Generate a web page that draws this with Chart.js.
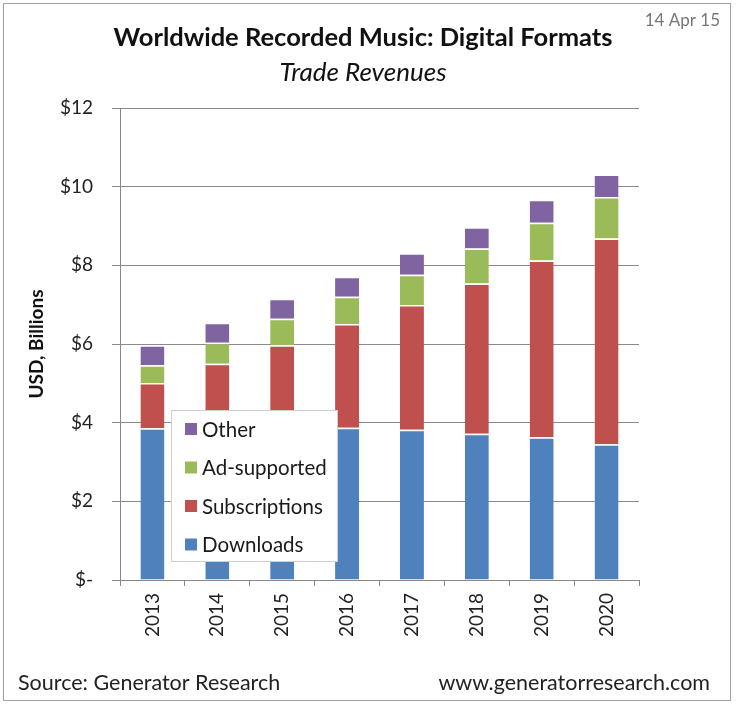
<!DOCTYPE html>
<html>
<head>
<meta charset="utf-8">
<script src="https://cdn.jsdelivr.net/npm/chart.js@4/dist/chart.umd.min.js"></script>
<style>
  html, body { margin: 0; padding: 0; background: #fff; }
  canvas { display: block; }
</style>
</head>
<body>
<canvas id="MusicChart" width="736" height="708"></canvas>
<script>
// -------------------------    Data    -------------------------

var years = ['2013', '2014', '2015', '2016', '2017', '2018', '2019', '2020'];

// USD billions, stacked from the bottom
var downloads     = [3.86, 3.85, 3.90, 3.87, 3.82, 3.72, 3.63, 3.45];
var subscriptions = [1.15, 1.65, 2.07, 2.64, 3.17, 3.82, 4.49, 5.23];
var adSupported   = [0.45, 0.53, 0.67, 0.69, 0.77, 0.89, 0.96, 1.06];
var other         = [0.51, 0.51, 0.51, 0.51, 0.55, 0.54, 0.59, 0.57];

var yTickValues = [0, 2, 4, 6, 8, 10, 12];

var FONT = "Lato, 'Liberation Sans', Arial, sans-serif";


// -------------------------    helperfunctions    -------------------------

function makeSet(label, values, color) {
    return {
        label: label,
        data: values,
        backgroundColor: color,
        borderColor: '#ffffff',
        borderWidth: { top: 1.5, left: 0, right: 0, bottom: 0 },
        borderSkipped: false,
        barPercentage: 0.37,
        categoryPercentage: 1.0,
    };
}

function dollar(v) {
    return v === 0 ? '$-' : '$' + v;
}


// -------------------------    Plugins    -------------------------

// legend box sitting on top of the bars
var boxLegend = {
    id: 'boxLegend',
    afterDatasetsDraw(chart) {
        const ctx = chart.ctx;
        ctx.save();
        ctx.fillStyle = '#ffffff';
        ctx.fillRect(171, 410, 167, 152);
        ctx.strokeStyle = '#d0d0d0';
        ctx.lineWidth = 1;
        ctx.strokeRect(171.5, 410.5, 166, 151);

        const sets = chart.data.datasets.slice().reverse();
        ctx.font = '20.5px ' + FONT;
        ctx.textBaseline = 'middle';
        ctx.textAlign = 'left';
        sets.forEach((ds, i) => {
            const y = 429 + i * 38.5;
            ctx.fillStyle = ds.backgroundColor;
            ctx.fillRect(185, y - 6, 12, 12);
            ctx.fillStyle = '#1a1a1a';
            ctx.fillText(ds.label, 202, y + 1);
        });
        ctx.restore();
    }
};

// titles, date, footer and frame
var pageText = {
    id: 'pageText',
    afterDraw(chart) {
        const ctx = chart.ctx;
        ctx.save();
        ctx.strokeStyle = '#a0a0a0';
        ctx.lineWidth = 1;
        ctx.strokeRect(3.5, 3.5, 727, 697);

        ctx.textBaseline = 'middle';
        ctx.textAlign = 'center';
        ctx.fillStyle = '#111';
        ctx.font = 'bold 25.5px ' + FONT;
        ctx.fillText('Worldwide Recorded Music: Digital Formats', 363, 38);
        ctx.font = 'italic 26px ' + FONT;
        ctx.fillText('Trade Revenues', 363, 73);

        ctx.textAlign = 'right';
        ctx.fillStyle = '#777';
        ctx.font = '17px ' + FONT;
        ctx.fillText('14 Apr 15', 720, 21);

        ctx.fillStyle = '#222';
        ctx.font = '21.5px ' + FONT;
        ctx.fillText('www.generatorresearch.com', 710, 683);
        ctx.textAlign = 'left';
        ctx.fillText('Source: Generator Research', 18, 683);
        ctx.restore();
    }
};


// -------------------------    Chart Setup    -------------------------

var ctx = document.getElementById('MusicChart').getContext('2d');
var MusicChart = new Chart(ctx, {
    type: 'bar',
    data: {
        labels: years,
        datasets: [
            makeSet('Downloads', downloads, '#4f81bd'),
            makeSet('Subscriptions', subscriptions, '#c0504d'),
            makeSet('Ad-supported', adSupported, '#9bbb59'),
            makeSet('Other', other, '#8064a2'),
        ],
    },
    options: {
        responsive: false,
        animation: false,
        layout: {
            padding: { left: 21, right: 97, top: 108, bottom: 58 }
        },
        plugins: {
            legend: { display: false },
            tooltip: { enabled: false },
        },
        scales: {
            x: {
                stacked: true,
                grid: {
                    offset: true,
                    drawOnChartArea: false,
                    drawTicks: true,
                    tickLength: 6,
                    color: '#888',
                },
                border: { display: true, color: '#888' },
                ticks: {
                    autoSkip: false,
                    minRotation: 90,
                    maxRotation: 90,
                    padding: 7,
                    color: '#222',
                    font: { family: FONT, size: 19 },
                },
                afterFit(scale) { scale.height = 70; },
            },
            y: {
                stacked: true,
                min: 0,
                max: 12,
                afterBuildTicks(scale) {
                    scale.ticks = yTickValues.map(v => ({ value: v }));
                },
                grid: {
                    color: '#8a8a8a',
                    tickLength: 8,
                },
                border: { display: true, color: '#888' },
                ticks: {
                    padding: 19,
                    color: '#222',
                    font: { family: FONT, size: 19 },
                    callback: dollar,
                },
                title: {
                    display: true,
                    text: 'USD, Billions',
                    color: '#111',
                    font: { family: FONT, size: 19, weight: 'bold' },
                },
                afterFit(scale) { scale.width = 99; },
            },
        },
    },
    plugins: [boxLegend, pageText],
});
</script>
</body>
</html>
